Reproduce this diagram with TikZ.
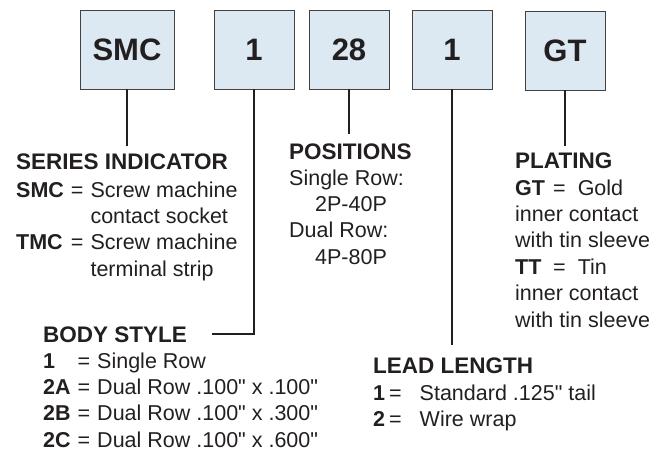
\documentclass[tikz,border=0pt]{standalone}
\usepackage{fontspec}
\setmainfont{Liberation Sans}[Ligatures=TeXOff]

\definecolor{boxblue}{RGB}{220,233,243}
\definecolor{ink}{RGB}{35,31,32}

\begin{document}
\begin{tikzpicture}[x=1pt,y=-1pt,color=ink,
    codebox/.style={draw=ink!85,fill=boxblue,line width=0.9pt,minimum width=80pt,minimum height=79pt,inner sep=0pt,font=\fontsize{31}{36}\selectfont\bfseries},
    head/.style={anchor=base west,inner sep=0pt,font=\fontsize{22.5}{27}\selectfont\bfseries},
    body/.style={anchor=base west,inner sep=0pt,font=\fontsize{21.5}{26.4}\selectfont},
    lead/.style={line width=1.6pt,draw=ink}]
      \useasboundingbox (0,0) rectangle (670,452);
      \node[codebox,minimum width=94pt] (smc) at (127,49.5) {SMC};
      \node[codebox] (style) at (254,49.5) {1};
      \node[codebox] (pins) at (349,49.5) {28};
      \node[codebox] (tail) at (452,49.5) {1};
      \node[codebox] (plate) at (565,50.5) {GT};
      \node[head] (series) at (16,169) {SERIES INDICATOR};
      \node[body] (serieslist) at (16,197) {\begin{tabular}[t]{@{}l@{\hspace{7pt}}l@{\hspace{7pt}}l@{}}
        \textbf{SMC} & = & Screw machine\\
                     &   & contact socket\\
        \textbf{TMC} & = & Screw machine\\
                     &   & terminal strip
      \end{tabular}};
      \node[head] (positions) at (289,159) {POSITIONS};
      \node[body] (poslist) at (289,185) {\begin{tabular}[t]{@{}l@{}}
        Single Row:\\
        \hspace{26pt}2P-40P\\
        Dual Row:\\
        \hspace{26pt}4P-80P
      \end{tabular}};
      \node[head] (plating) at (515,168) {PLATING};
      \node[body] (platelist) at (515,195) {\begin{tabular}[t]{@{}l@{}}
        \makebox[38pt][l]{\textbf{GT}}=\hspace{12pt}Gold\\
        inner contact\\
        with tin sleeve\\
        \makebox[38pt][l]{\textbf{TT}}=\hspace{12pt}Tin\\
        inner contact\\
        with tin sleeve
      \end{tabular}};
      \node[head] (bodystyle) at (43,342) {BODY STYLE};
      \node[body] (stylelist) at (43,368) {\raisebox{0pt}[\height][\dimexpr\depth-8pt\relax]{\begin{tabular}[t]{@{}l@{\hspace{7pt}}l@{\hspace{7pt}}l@{}}
        \textbf{1}  & = & Single Row\\
        \textbf{2A} & = & Dual Row .100" x .100"\\
        \textbf{2B} & = & Dual Row .100" x .300"\\
        \textbf{2C} & = & Dual Row .100" x .600"
      \end{tabular}}};
      \node[head] (leadlength) at (373,373) {LEAD LENGTH};
      \node[body] (leadlist) at (373,400) {\begin{tabular}[t]{@{}l@{\hspace{4pt}}l@{\hspace{18pt}}l@{}}
        \textbf{1} & = & Standard .125" tail\\
        \textbf{2} & = & Wire wrap
      \end{tabular}};
      \draw[lead,shorten >=7pt] (smc.south) -- (smc.south |- series.north);
      \draw[lead,shorten >=25pt] (style.south) |- (bodystyle.east);
      \draw[lead,shorten >=9pt] (pins.south) -- (pins.south |- positions.north);
      \draw[lead,shorten >=12pt] (tail.south) -- (tail.south |- leadlength.north);
      \draw[lead,shorten >=6pt] (plate.south) -- (plate.south |- plating.north);
    \end{tikzpicture}
\end{document}
